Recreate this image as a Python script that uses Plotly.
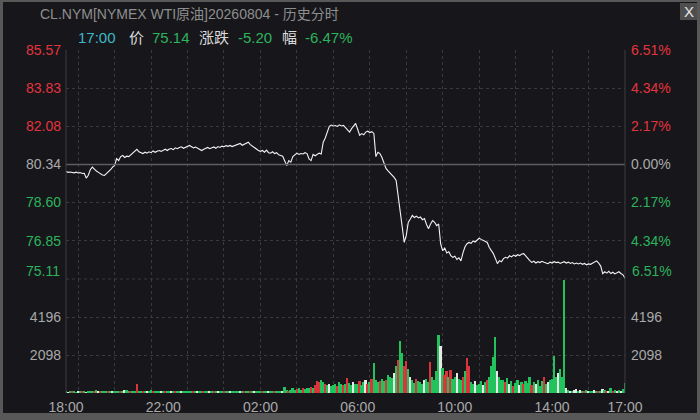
import pandas as pd
import plotly.graph_objects as go

# 5 minute samples, 18:00 -> 17:00 next day
times = pd.date_range("2026-08-03 18:00", "2026-08-04 17:00", freq="5min")

price = [
    80.02, 79.98, 80.00, 79.97, 79.96, 79.99, 79.95, 79.97, 79.93, 79.94, 79.72, 79.85,  # 18
    80.10, 80.22, 80.12, 80.04, 79.98, 79.92, 79.86, 79.84, 79.92, 80.02, 80.10, 80.22,  # 19
    80.30, 80.61, 80.52, 80.70, 80.75, 80.66, 80.72, 80.70, 80.78, 80.86, 80.94, 81.03,  # 20
    80.92, 80.88, 80.84, 80.90, 80.86, 80.92, 80.88, 80.96, 80.90, 80.95, 80.98, 80.94,  # 21
    81.00, 81.04, 80.98, 81.05, 81.07, 81.02, 81.10, 81.06, 81.12, 81.15, 81.08, 81.13,  # 22
    81.18, 81.21, 81.15, 81.10, 81.14, 81.08, 81.02, 80.98, 81.04, 81.08, 81.12, 81.06,  # 23
    81.10, 81.14, 81.08, 81.16, 81.12, 81.18, 81.15, 81.20, 81.17, 81.21, 81.16, 81.20,  # 00
    81.24, 81.28, 81.30, 81.22, 81.27, 81.33, 81.36, 81.25, 81.18, 81.10, 81.02, 80.98,  # 01
    80.94, 80.98, 80.90, 81.00, 80.88, 80.86, 80.92, 80.84, 80.88, 80.78, 80.75, 80.72,  # 02
    80.50, 80.29, 80.52, 80.45, 80.70, 80.78, 80.86, 80.80, 80.84, 80.82, 80.88, 80.84,  # 03
    80.60, 80.52, 80.80, 80.74, 80.82, 80.86, 80.82, 81.36, 81.55, 81.80, 82.08, 82.14,  # 04
    82.10, 82.12, 82.08, 82.15, 82.10, 82.13, 82.02, 81.90, 81.82, 81.98, 82.10, 82.22,  # 05
    81.95, 81.67, 81.75, 81.70, 81.82, 81.86, 81.80, 81.84, 81.76, 80.70, 80.90, 80.84,  # 06
    80.66, 80.40, 80.16, 80.05, 79.96, 79.88, 79.75, 79.61, 78.90, 78.20, 77.40, 76.78,  # 07
    77.10, 77.70, 77.85, 78.01, 77.92, 77.98, 77.90, 77.94, 77.82, 77.87, 77.60, 77.41,  # 08
    77.62, 77.78, 77.70, 77.55, 77.62, 76.70, 76.40, 76.52, 76.30, 76.35, 76.18, 76.10,  # 09
    76.15, 76.00, 76.08, 75.94, 76.30, 76.58, 76.72, 76.78, 76.74, 76.85, 76.80, 76.90,  # 10
    76.97, 76.92, 76.88, 76.82, 76.78, 76.55, 76.40, 76.27, 76.05, 75.81, 75.95, 75.90,  # 11
    76.04, 76.10, 76.06, 76.17, 76.12, 76.20, 76.15, 76.22, 76.18, 76.25, 76.27, 76.15,  # 12
    76.02, 75.95, 75.87, 75.92, 75.84, 75.90, 75.86, 75.92, 75.88, 75.84, 75.81, 75.88,  # 13
    75.84, 75.90, 75.86, 75.88, 75.82, 75.86, 75.90, 75.84, 75.88, 75.82, 75.86, 75.80,  # 14
    75.84, 75.80, 75.84, 75.78, 75.82, 75.76, 75.80, 75.78, 75.84, 75.88, 75.94, 75.84,  # 15
    75.70, 75.35, 75.44, 75.38, 75.46, 75.36, 75.42, 75.34, 75.40, 75.44, 75.36, 75.30,  # 16
    75.14,
]

volume = [
    70, 50, 90, 60, 80, 50, 120, 70, 60, 90, 50, 80,
    100, 60, 90, 150, 70, 80, 60, 110, 90, 70, 120, 80,
    130, 70, 90, 60, 80, 140, 160, 90, 110, 120, 80, 500,
    100, 80, 60, 90, 70, 120, 150, 60, 80, 100, 70, 90,
    110, 80, 90, 130, 70, 60, 100, 80, 120, 90, 60, 80,
    90, 120, 70, 80, 100, 60, 90, 70, 110, 80, 60, 90,
    80, 100, 70, 60, 90, 120, 80, 60, 100, 70, 90, 80,
    90, 110, 80, 70, 60, 100, 90, 80, 70, 110, 120, 90,
    130, 80, 100, 70, 90, 110, 80, 60, 100, 90, 70, 110,
    330, 150, 120, 180, 250, 160, 200, 300, 180, 250, 200, 280,
    260, 350, 300, 420, 650, 580, 700, 600, 500, 450, 520, 400,
    450, 520, 380, 600, 480, 420, 500, 830, 560, 450, 600, 480,
    500, 650, 420, 580, 700, 520, 600, 800, 1670, 700, 600, 650,
    800, 650, 700, 1000, 900, 850, 1100, 1500, 1800, 2890, 2200, 1500,
    1750, 1300, 900, 700, 550, 800, 650, 600, 500, 700, 800, 600,
    1730, 900, 700, 1200, 3200, 2600, 1400, 1000, 1200, 900, 1250, 800,
    900, 1100, 800, 700, 900, 1200, 1930, 1500, 600, 500, 650, 450,
    500, 650, 450, 600, 700, 900, 1500, 2000, 3100, 1200, 900, 700,
    700, 600, 850, 500, 650, 400, 550, 700, 450, 600, 500, 650,
    550, 900, 450, 600, 500, 700, 400, 650, 900, 500, 600, 700,
    800, 2040, 900, 1100, 1350, 900, 6240, 300, 150, 120, 100, 150,
    200, 100, 150, 90, 130, 180, 120, 80, 100, 150, 90, 130,
    110, 200, 150, 120, 90, 300, 120, 180, 100, 150, 90, 200,
    570,
]

# g = down (green), r = up (red), w = flat (white)
vol_side = list(
    "gwgrggwgrgwg" "ggrgwrgggrgw" "gggrgwggrggr" "ggrgwggrgggw"
    "grggwgrggwgg" "gggrgwggrggw" "grgwggrggwgg" "ggwgrggrgwgg"
    "grggwggrgggw" "ggrgggrggrgg" "grgrrrggrgwg" "ggrggrgrggwg"
    "grggwrgrgggr" "ggrgggwgrggr" "rgwggrgggwgg" "rggggwgrrgrg"
    "gwggrgrrggwg" "ggwgrggggwgg" "grgwgrggwgrg" "ggrgwgggrgwg"
    "gggwgggwgwgw" "wgwgrgwggwgr" "gwgrwgrgwgwg" "g"
)

base_price = 80.34
price_ticks = [85.57, 83.83, 82.08, 80.34, 78.60, 76.85, 75.11]
pct_labels = ["6.51%", "4.34%", "2.17%", "0.00%", "2.17%", "4.34%", "6.51%"]
vol_ticks = [2098, 4196]
vol_top = 6294
time_ticks = ["2026-08-03 18:00", "2026-08-03 22:00", "2026-08-04 02:00", "2026-08-04 06:00",
              "2026-08-04 10:00", "2026-08-04 14:00", "2026-08-04 17:00"]
time_labels = ["18:00", "22:00", "02:00", "06:00", "10:00", "14:00", "17:00"]

RED = "#e5333e"
GREEN = "#2db35b"
GRAY = "#a9a9a9"
GRID = "#3a3a3e"
BG = "#17171b"
FONT = "Liberation Sans, Noto Sans CJK SC"

side_colors = {"g": "#22c35c", "r": "#d9363c", "w": "#e8e8e8"}
bar_colors = [side_colors[s] for s in vol_side]


def tick_color(p):
    if p > base_price:
        return RED
    if p < base_price:
        return GREEN
    return GRAY


def colored(text, color):
    return '<span style="color:%s">%s</span>' % (color, text)


# pixel -> paper helpers (plot area 66..625 x 50..393)
def px(x):
    return (x - 66) / 559.0


def py(y):
    return (393 - y) / 343.0


left_text = [colored("%.2f" % p, tick_color(p)) for p in price_ticks[:-1]]
right_text = [colored(t, tick_color(p)) for t, p in zip(pct_labels[:-1], price_ticks[:-1])]

fig = go.Figure()
fig.add_trace(go.Scatter(x=times, y=price, mode="lines",
                         line=dict(color="#f2f2f2", width=1.1),
                         xaxis="x", yaxis="y", hoverinfo="skip"))
fig.add_trace(go.Scatter(x=times, y=price, mode="lines", line=dict(width=0),
                         opacity=0, xaxis="x", yaxis="y2", hoverinfo="skip"))
fig.add_trace(go.Bar(x=times, y=volume, marker=dict(color=bar_colors, line_width=0),
                     width=4.2 * 60 * 1000, xaxis="x2", yaxis="y3"))
fig.add_trace(go.Scatter(x=times, y=volume, mode="lines", line=dict(width=0),
                         opacity=0, xaxis="x2", yaxis="y4", hoverinfo="skip"))

minor_grid = dict(tickmode="linear", tick0="2026-08-03 18:30", dtick=90 * 60 * 1000,
                  showgrid=True, gridcolor=GRID, griddash="dot", gridwidth=1, ticks="")
x_common = dict(type="date", range=[times[0], times[-1]], showgrid=False, zeroline=False,
                tickmode="array", tickvals=time_ticks, ticktext=time_labels, ticks="",
                minor=minor_grid, fixedrange=True, automargin=False)
y_common = dict(zeroline=False, ticks="", fixedrange=True, automargin=False)

fig.update_layout(
    width=700, height=420, autosize=False,
    margin=dict(l=66, r=75, t=50, b=27),
    paper_bgcolor="#585858",
    plot_bgcolor=BG,
    showlegend=False,
    bargap=0,
    font=dict(family=FONT, size=14, color=GRAY),
    xaxis=dict(x_common, anchor="y", showticklabels=False),
    xaxis2=dict(x_common, anchor="y3", matches="x", showticklabels=True,
                tickfont=dict(color=GRAY, size=14), ticklabelstandoff=4),
    yaxis=dict(y_common, domain=[py(279), 1], range=[price_ticks[-1], price_ticks[0]],
               tickmode="array", tickvals=price_ticks[:-1], ticktext=left_text,
               showgrid=True, gridcolor=GRID, griddash="dot", ticklabelstandoff=4),
    yaxis2=dict(y_common, overlaying="y", side="right",
                range=[price_ticks[-1], price_ticks[0]],
                tickmode="array", tickvals=price_ticks[:-1], ticktext=right_text,
                showgrid=False, ticklabelstandoff=5),
    yaxis3=dict(y_common, domain=[0, py(279)], range=[0, vol_top], tickmode="array",
                tickvals=vol_ticks, ticktext=[str(v) for v in vol_ticks],
                showgrid=True, gridcolor=GRID, griddash="dot",
                ticklabelstandoff=4, tickfont=dict(color=GRAY)),
    yaxis4=dict(y_common, overlaying="y3", side="right", range=[0, vol_top],
                tickmode="array", tickvals=vol_ticks, ticktext=[str(v) for v in vol_ticks],
                showgrid=False, ticklabelstandoff=5, tickfont=dict(color=GRAY)),
)

shapes = [
    # window body over the grey frame
    dict(type="rect", xref="paper", yref="paper", x0=px(3), x1=px(697), y0=py(413), y1=py(2),
         fillcolor=BG, line_width=0, layer="below"),
    # close button
    dict(type="rect", xref="paper", yref="paper", x0=px(680), x1=px(697), y0=py(20), y1=py(3),
         fillcolor="#4e4e4e", line_width=0),
    # previous settle line
    dict(type="line", xref="paper", yref="y", x0=0, x1=1, y0=base_price, y1=base_price,
         line=dict(color="#5e5e62", width=1.5)),
    # divider between price and volume panels
    dict(type="line", xref="paper", yref="paper", x0=0, x1=1, y0=py(279), y1=py(279),
         line=dict(color=GRID, width=1, dash="dot")),
    # panel side borders
    dict(type="line", xref="paper", yref="paper", x0=0, x1=0, y0=0, y1=1,
         line=dict(color="#3c3c40", width=1)),
    dict(type="line", xref="paper", yref="paper", x0=1, x1=1, y0=0, y1=1,
         line=dict(color="#3c3c40", width=1)),
]
fig.update_layout(shapes=shapes)

ann = [
    dict(text="CL.NYM[NYMEX WTI原油]20260804 - 历史分时", x=px(38), y=py(14),
         font=dict(size=14, color="#8e8e8e")),
    dict(text="17:00", x=px(76), y=py(37), font=dict(size=15, color="#3db9c9")),
    dict(text="价", x=px(127), y=py(37), font=dict(size=15, color="#dadada")),
    dict(text="75.14", x=px(150), y=py(37), font=dict(size=15, color=GREEN)),
    dict(text="涨跌", x=px(197), y=py(37), font=dict(size=15, color="#dadada")),
    dict(text="-5.20", x=px(236), y=py(37), font=dict(size=15, color=GREEN)),
    dict(text="幅", x=px(280), y=py(37), font=dict(size=15, color="#dadada")),
    dict(text="-6.47%", x=px(303), y=py(37), font=dict(size=15, color=GREEN)),
]
for a in ann:
    fig.add_annotation(xref="paper", yref="paper", xanchor="left", yanchor="middle",
                       showarrow=False, font_family=FONT, **a)

# bottom price labels sit a little above their grid line
fig.add_annotation(text="%.2f" % price_ticks[-1], xref="paper", yref="y", x=px(62),
                   y=price_ticks[-1], yshift=8, xanchor="right", yanchor="middle",
                   showarrow=False, font=dict(family=FONT, size=14, color=GREEN))
fig.add_annotation(text=pct_labels[-1], xref="paper", yref="y", x=px(630),
                   y=price_ticks[-1], yshift=8, xanchor="left", yanchor="middle",
                   showarrow=False, font=dict(family=FONT, size=14, color=GREEN))
fig.add_annotation(text="X", xref="paper", yref="paper", x=px(688.5), y=py(11.5),
                   xanchor="center", yanchor="middle", showarrow=False,
                   font=dict(family=FONT, size=15, color="#e6e6e6"))

# page has a default 8px body margin; drop it so the figure fills the window
fig.write_html("out.html", config={"displayModeBar": False},
               post_script="document.body.style.margin='0';")
